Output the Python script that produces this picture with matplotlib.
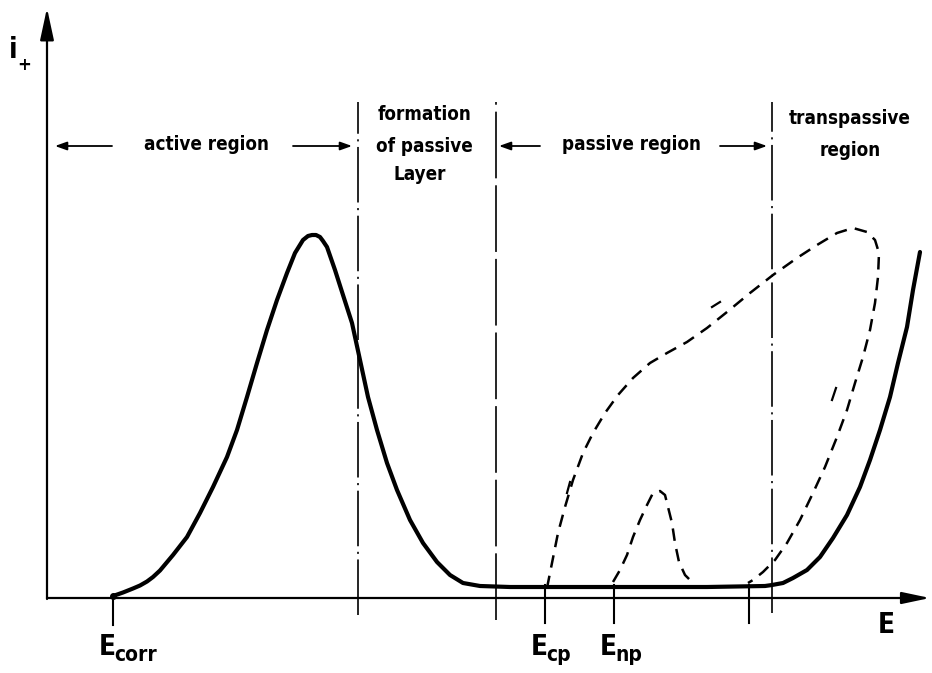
import matplotlib
matplotlib.use('Agg')
import matplotlib.pyplot as plt
import numpy as np

plt.rcParams['lines.scale_dashes'] = False
plt.rcParams['font.family'] = ['DejaVu Sans']

# schematic anodic polarisation curve (arbitrary units, origin at axes corner)
active_E = [66, 76, 86, 93, 100, 106, 113, 126, 140, 153, 166, 180, 190, 200,
            210, 220, 230, 240, 248, 256, 261, 265, 269, 273, 276, 280, 288,
            296, 305, 313, 321, 330, 340, 350, 363, 376, 390, 403, 416, 433,
            463, 560, 660, 718, 725, 736, 746, 760, 773, 786, 800, 813, 823,
            833, 843, 851, 860, 866, 873]
active_i = [2, 5.5, 9.5, 12.5, 16.5, 21, 27.5, 43, 61, 85, 111, 141, 168, 201,
            235, 268, 298, 325, 345, 358, 362, 363, 363, 361, 357, 351, 328,
            303, 275, 238, 201, 168, 135, 108, 78, 55, 36, 23, 15, 12,
            11, 11, 11, 12, 13, 15, 20, 28, 41, 60, 83, 111, 138,
            168, 201, 235, 271, 308, 346]

# pitting loop: forward scan from E_cp, reverse scan back to the repassivation point
loop_E = [500, 505, 511, 518, 526, 536, 546, 558, 571, 586, 603, 620, 640, 660,
          680, 703, 726, 750, 770, 790, 806, 820, 828, 832, 831, 828, 823, 816,
          808, 800, 790, 778, 766, 753, 740, 728, 716, 706, 701]
loop_i = [10, 35, 65, 91, 118, 145, 165, 185, 203, 220, 235, 245, 256, 270,
          286, 305, 323, 340, 353, 365, 370, 366, 358, 345, 321, 295, 268, 241,
          215, 188, 161, 131, 105, 78, 55, 38, 26, 18, 15]

# metastable pit peak above E_np
meta_E = [566, 573, 580, 586, 593, 600, 606, 613, 618, 621, 625, 628, 632, 638, 643]
meta_i = [16, 28, 43, 61, 78, 93, 105, 107, 103, 91, 75, 55, 36, 23, 18]

# short direction marks beside the loop
mark_E = [(520, 523), (665, 673), (785, 789)]
mark_i = [(105, 116), (291, 296), (198, 210)]

# region borders
border_E = [311, 449, 725]
border_bottom = [-17, -22, -15]
border_style = ['dashdot', 'dashed', 'dashdot']
border_top = 496

# potentials marked on the E axis
tick_E = [66, 498, 567, 702]
tick_top = [0, 13, 13, 13]
tick_bottom = [-27, -25, -25, -25]
tick_names = ['corr', 'cp', 'np', '']

fig = plt.figure(figsize=(9.32, 6.73), dpi=100)
ax = fig.add_axes([0, 0, 1, 1])
ax.set_xlim(-47, 885)
ax.set_ylim(-75, 598)
ax.axis('off')

# axes with arrow heads
ax.annotate('', xy=(883, 0), xytext=(0, 0),
            arrowprops=dict(arrowstyle='-|>,head_length=1.7,head_width=0.36',
                            lw=1.6, color='k', shrinkA=0, shrinkB=0))
ax.annotate('', xy=(0, 590), xytext=(0, -1),
            arrowprops=dict(arrowstyle='-|>,head_length=1.95,head_width=0.42',
                            lw=1.6, color='k', shrinkA=0, shrinkB=0))

dash_styles = {'dashdot': (0, (40, 4, 1.5, 4)), 'dashed': (0, (48, 5))}
for e, b, st in zip(border_E, border_bottom, border_style):
    ax.plot([e, e], [b, border_top], color='k', lw=1.2, ls=dash_styles[st])

for e, t, b in zip(tick_E, tick_top, tick_bottom):
    ax.plot([e, e], [t, b], color='k', lw=1.5)

# curves
ax.plot(active_E, active_i, color='k', lw=3.0, solid_joinstyle='round',
        solid_capstyle='round')
ax.plot(active_E[0], active_i[0], 'o', color='k', ms=4)
ax.plot(loop_E, loop_i, color='k', lw=1.8, ls=(0, (9, 6)))
ax.plot(meta_E, meta_i, color='k', lw=1.8, ls=(0, (9, 6)))
for me, mi in zip(mark_E, mark_i):
    ax.plot(me, mi, color='k', lw=1.6)

# region labels
txt = dict(ha='center', va='center', fontsize=13.5, fontweight='bold',
           fontstretch='condensed')
ax.text(160, 453, 'active region', **txt)
ax.text(378, 483, 'formation', **txt)
ax.text(377, 451, 'of passive', **txt)
ax.text(373, 423, 'Layer', **txt)
ax.text(585, 453, 'passive region', **txt)
ax.text(803, 480, 'transpassive', **txt)
ax.text(803, 448, 'region', **txt)

arr = dict(arrowstyle='-|>,head_length=0.7,head_width=0.25', lw=1.3,
           color='k', shrinkA=0, shrinkB=0)
for tail, tip in [(65, 8), (246, 305), (493, 452), (673, 720)]:
    ax.annotate('', xy=(tip, 452), xytext=(tail, 452), arrowprops=arr)

# axis and potential labels
lab = dict(fontsize=20, fontweight='bold', fontstretch='condensed')
ax.text(-34, 548, 'i', ha='center', va='center', **lab)
ax.text(-23, 533, '+', ha='center', va='center', fontsize=12, fontweight='bold')
ax.text(839, -27, 'E', ha='center', va='center', **lab)
for e, name in zip(tick_E, tick_names):
    if not name:
        continue
    ax.text(e - 14, -49, 'E', ha='left', va='center', **lab)
    ax.text(e + 1, -57, name, ha='left', va='center', fontsize=15,
            fontweight='bold', fontstretch='condensed')

fig.savefig('out.png', dpi=100)
